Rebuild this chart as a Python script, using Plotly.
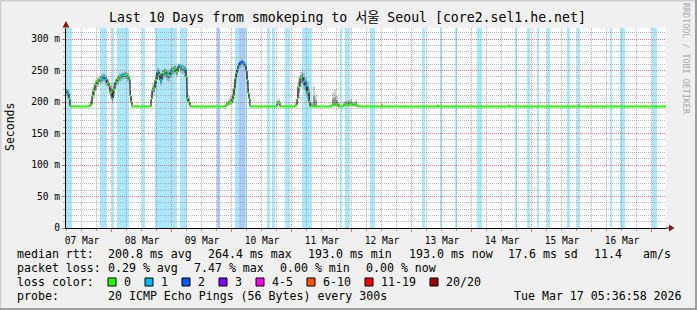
import pandas as pd
import plotly.graph_objects as go

# ---------------- data ----------------
title_text = "Last 10 Days from smokeping to 서울 Seoul [core2.sel1.he.net]"
t_start = "2026-03-07 05:36:58"
t_end = "2026-03-17 05:36:58"

med_time = [
    "2026-03-07 05:37", "2026-03-07 06:01", "2026-03-07 06:49", "2026-03-07 07:13",
    "2026-03-07 15:13", "2026-03-07 16:01", "2026-03-07 16:25", "2026-03-07 17:13",
    "2026-03-07 18:01", "2026-03-07 18:49", "2026-03-07 19:37", "2026-03-07 20:25",
    "2026-03-07 21:13", "2026-03-07 22:01", "2026-03-07 22:49", "2026-03-07 23:13",
    "2026-03-08 00:01", "2026-03-08 00:25", "2026-03-08 01:13", "2026-03-08 02:01",
    "2026-03-08 02:49", "2026-03-08 03:37", "2026-03-08 04:25", "2026-03-08 05:13",
    "2026-03-08 06:01", "2026-03-08 06:49", "2026-03-08 07:13", "2026-03-08 07:37",
    "2026-03-08 08:01", "2026-03-08 15:37", "2026-03-08 16:01", "2026-03-08 16:25",
    "2026-03-08 17:13", "2026-03-08 18:01", "2026-03-08 18:49", "2026-03-08 19:13",
    "2026-03-08 20:01", "2026-03-08 20:49", "2026-03-08 21:37", "2026-03-08 22:25",
    "2026-03-08 23:13", "2026-03-09 00:01", "2026-03-09 00:49", "2026-03-09 01:37",
    "2026-03-09 02:25", "2026-03-09 03:13", "2026-03-09 04:01", "2026-03-09 04:49",
    "2026-03-09 05:37", "2026-03-09 06:01", "2026-03-09 06:25", "2026-03-09 07:13",
    "2026-03-09 21:37", "2026-03-09 22:25", "2026-03-09 23:13", "2026-03-10 00:01",
    "2026-03-10 00:25", "2026-03-10 00:49", "2026-03-10 01:13", "2026-03-10 01:37",
    "2026-03-10 02:01", "2026-03-10 02:25", "2026-03-10 02:49", "2026-03-10 03:37",
    "2026-03-10 04:25", "2026-03-10 05:13", "2026-03-10 05:37", "2026-03-10 06:01",
    "2026-03-10 06:25", "2026-03-10 06:49", "2026-03-10 07:13", "2026-03-10 18:01",
    "2026-03-10 19:13", "2026-03-11 01:13", "2026-03-11 02:01", "2026-03-11 02:25",
    "2026-03-11 03:13", "2026-03-11 04:01", "2026-03-11 04:25", "2026-03-11 05:13",
    "2026-03-11 06:01", "2026-03-11 06:49", "2026-03-11 07:13", "2026-03-11 08:25",
    "2026-03-11 09:13", "2026-03-11 10:01", "2026-03-11 16:01", "2026-03-11 16:49",
    "2026-03-11 17:37", "2026-03-11 18:25", "2026-03-11 19:13", "2026-03-11 20:25",
    "2026-03-11 21:13", "2026-03-11 22:25", "2026-03-11 23:13", "2026-03-12 00:01",
    "2026-03-12 01:13", "2026-03-12 02:01", "2026-03-12 11:37", "2026-03-12 12:25",
    "2026-03-13 10:00", "2026-03-13 10:48", "2026-03-14 14:24", "2026-03-14 15:12",
    "2026-03-15 18:24", "2026-03-15 19:12", "2026-03-17 05:37",
]
med_ms = [
    218, 214, 205, 193,
    196, 210, 218, 228,
    232, 236, 237, 240,
    236, 230, 226, 215,
    206, 220, 232, 237,
    240, 242, 243, 243,
    240, 236, 210, 200,
    193, 205, 219, 222,
    235, 248, 244, 235,
    246, 248, 244, 243,
    248, 251, 253, 248,
    258, 256, 254, 252,
    240, 206, 200, 193,
    196, 198, 200, 204,
    210, 222, 238, 246,
    252, 258, 262, 264,
    261, 258, 250, 235,
    214, 205, 193, 198,
    193, 195, 205, 224,
    238, 240, 232, 226,
    216, 200, 193, 193,
    193, 193, 196, 195,
    196, 193, 193, 195,
    196, 195, 197, 195,
    196, 193, 193, 193,
    193, 193, 193, 193,
    193, 193, 193,
]
# loss level of each median sample (index into loss_colors)
med_loss = [
    1, 1, 0, 0,
    0, 0, 0, 0,
    0, 0, 1, 1,
    1, 0, 0, 0,
    1, 0, 0, 0,
    0, 1, 1, 0,
    0, 0, 0, 0,
    0, 0, 0, 0,
    0, 1, 0, 1,
    0, 0, 1, 0,
    1, 0, 0, 0,
    1, 1, 0, 1,
    0, 0, 0, 0,
    0, 0, 0, 0,
    0, 0, 0, 1,
    1, 1, 2, 2,
    1, 1, 1, 0,
    0, 0, 0, 0,
    0, 0, 0, 0,
    0, 1, 1, 1,
    0, 0, 0, 0,
    0, 0, 0, 0,
    0, 0, 0, 0,
    0, 0, 0, 0,
    0, 0, 0, 0,
    0, 0, 0, 0,
    0, 0, 0,
]
smoke_lo = [
    210, 205, 196, 193,
    193, 198, 205, 218,
    224, 228, 230, 232,
    226, 220, 212, 204,
    198, 205, 222, 228,
    232, 234, 236, 236,
    232, 222, 200, 195,
    193, 195, 205, 210,
    222, 238, 234, 226,
    236, 238, 234, 232,
    238, 242, 244, 240,
    248, 246, 245, 240,
    222, 198, 195, 193,
    193, 194, 195, 196,
    198, 205, 220, 232,
    240, 248, 254, 258,
    255, 248, 238, 220,
    205, 196, 193, 194,
    193, 193, 196, 205,
    222, 228, 220, 212,
    204, 195, 193, 193,
    193, 193, 193, 193,
    193, 193, 193, 193,
    193, 193, 193, 193,
    193, 193, 193, 193,
    193, 193, 193, 193,
    193, 193, 193,
]
smoke_hi = [
    222, 220, 212, 193,
    204, 222, 228, 236,
    240, 242, 244, 246,
    242, 238, 234, 228,
    222, 230, 238, 242,
    245, 247, 248, 248,
    246, 242, 226, 210,
    193, 215, 228, 232,
    244, 254, 252, 246,
    252, 254, 252, 250,
    255, 257, 259, 256,
    262, 260, 259, 258,
    250, 225, 210, 193,
    202, 206, 210, 222,
    228, 235, 246, 252,
    256, 262, 265, 267,
    265, 263, 258, 250,
    228, 212, 193, 205,
    193, 200, 228, 240,
    248, 252, 246, 240,
    232, 222, 200, 225,
    212, 193, 215, 220,
    210, 200, 193, 200,
    202, 203, 205, 200,
    204, 193, 198, 193,
    197, 193, 197, 193,
    197, 193, 193,
]

loss_start = [
    "2026-03-07 05:37", "2026-03-07 19:12", "2026-03-08 00:00", "2026-03-08 02:00",
    "2026-03-08 12:00", "2026-03-08 17:12", "2026-03-09 03:12", "2026-03-09 18:00",
    "2026-03-10 01:12", "2026-03-10 02:48", "2026-03-10 05:12", "2026-03-10 14:00",
    "2026-03-10 16:00", "2026-03-10 21:12", "2026-03-11 04:00", "2026-03-11 19:12",
    "2026-03-11 21:12", "2026-03-12 07:12", "2026-03-13 04:00", "2026-03-13 11:12",
    "2026-03-13 17:12", "2026-03-14 02:00", "2026-03-14 17:12", "2026-03-14 22:00",
    "2026-03-15 02:00", "2026-03-15 06:00", "2026-03-15 14:00", "2026-03-15 18:00",
    "2026-03-16 07:12", "2026-03-16 11:12", "2026-03-17 00:00",
]
loss_end = [
    "2026-03-07 08:00", "2026-03-07 22:00", "2026-03-08 00:48", "2026-03-08 06:48",
    "2026-03-08 13:12", "2026-03-09 02:00", "2026-03-09 06:00", "2026-03-09 19:12",
    "2026-03-10 02:48", "2026-03-10 05:12", "2026-03-10 06:00", "2026-03-10 15:12",
    "2026-03-10 17:12", "2026-03-10 23:12", "2026-03-11 08:00", "2026-03-11 20:00",
    "2026-03-11 23:12", "2026-03-12 09:12", "2026-03-13 05:12", "2026-03-13 12:00",
    "2026-03-13 18:00", "2026-03-14 04:00", "2026-03-14 18:00", "2026-03-14 23:12",
    "2026-03-15 02:48", "2026-03-15 07:12", "2026-03-15 15:12", "2026-03-15 19:12",
    "2026-03-16 08:00", "2026-03-16 13:12", "2026-03-17 02:00",
]
loss_level = [1, 1, 1, 1, 1, 1, 1, 2, 1, 2, 1, 1, 1, 1, 1, 1,
              1, 1, 1, 1, 1, 1, 1, 1, 1, 1, 1, 1, 1, 1, 1]

loss_labels = ["0", "1", "2", "3", "4-5", "6-10", "11-19", "20/20"]
loss_colors = ["#26ff00", "#00b8ff", "#0059ff", "#7e00ff", "#ff00ee", "#ff5500", "#ff0000", "#a10000"]

y_tickvals = [0, 50, 100, 150, 200, 250, 300]
y_ticktext = ["0", "50 m", "100 m", "150 m", "200 m", "250 m", "300 m"]

rtt_stats = ["200.8 ms avg", "264.4 ms max", "193.0 ms min", "193.0 ms now", "17.6 ms sd", "11.4", "am/s"]
loss_stats = ["0.29 % avg", "7.47 % max", "0.00 % min", "0.00 % now"]
probe_text = "20 ICMP Echo Pings (56 Bytes) every 300s"
stamp_text = "Tue Mar 17 05:36:58 2026"
side_text = "RRDTOOL / TOBI OETIKER"

# ---------------- layout geometry (pixels) ----------------
W, H = 697, 310
PL, PR, PT, PB = 66, 666, 28, 228
YMAX = 317.5
MONO = "DejaVu Sans Mono"


def px(xp):
    return (xp - PL) / (PR - PL)


def py(yp):
    return (PB - yp) / (PB - PT)


def hexrgba(h, a):
    h = h.lstrip("#")
    return "rgba(%d,%d,%d,%.2f)" % (int(h[0:2], 16), int(h[2:4], 16), int(h[4:6], 16), a)


fig = go.Figure()

# smoke (outer and inner)
mt = pd.to_datetime(med_time)
lo2 = [(a + m) / 2 for a, m in zip(smoke_lo, med_ms)]
hi2 = [(b + m) / 2 for b, m in zip(smoke_hi, med_ms)]
for lo, hi, fc in [(smoke_lo, smoke_hi, "rgba(0,0,0,0.18)"), (lo2, hi2, "rgba(0,0,0,0.30)")]:
    fig.add_trace(go.Scatter(x=mt, y=lo, mode="lines", line=dict(width=0, shape="hv"),
                             hoverinfo="skip", showlegend=False))
    fig.add_trace(go.Scatter(x=mt, y=hi, mode="lines", line=dict(width=0, shape="hv"),
                             fill="tonexty", fillcolor=fc, hoverinfo="skip", showlegend=False))

# dark median step line
fig.add_trace(go.Scatter(x=mt, y=med_ms, mode="lines", line=dict(color="#111111", width=1, shape="hv"),
                         hoverinfo="skip", showlegend=False))

# coloured median segments according to loss of each sample
segx = {i: [] for i in range(len(loss_colors))}
segy = {i: [] for i in range(len(loss_colors))}
for i in range(len(mt) - 1):
    lvl = med_loss[i]
    segx[lvl] += [mt[i], mt[i + 1], None]
    segy[lvl] += [med_ms[i], med_ms[i], None]
for lvl in segx:
    if segx[lvl]:
        fig.add_trace(go.Scatter(x=segx[lvl], y=segy[lvl], mode="lines",
                                 line=dict(color=loss_colors[lvl], width=2),
                                 hoverinfo="skip", showlegend=False))

shapes = []
# loss background bands
for a, b, l in zip(loss_start, loss_end, loss_level):
    shapes.append(dict(type="rect", xref="x", yref="paper", x0=a, x1=b, y0=0, y1=1,
                       fillcolor=hexrgba(loss_colors[l], 0.33), line=dict(width=0), layer="below"))

# frame
shapes += [
    dict(type="rect", xref="paper", yref="paper", x0=px(0), x1=px(W), y0=py(0), y1=py(1.5),
         fillcolor="#cfcfcf", line=dict(width=0)),
    dict(type="rect", xref="paper", yref="paper", x0=px(0), x1=px(1.5), y0=py(0), y1=py(H),
         fillcolor="#cfcfcf", line=dict(width=0)),
    dict(type="rect", xref="paper", yref="paper", x0=px(W - 2), x1=px(W), y0=py(0), y1=py(H),
         fillcolor="#9e9e9e", line=dict(width=0)),
    dict(type="rect", xref="paper", yref="paper", x0=px(0), x1=px(W), y0=py(H - 2), y1=py(H),
         fillcolor="#9e9e9e", line=dict(width=0)),
]
# axis arrows
shapes += [
    dict(type="line", xref="paper", yref="paper", x0=px(666), x1=px(669), y0=py(228), y1=py(228),
         line=dict(color="#000000", width=1)),
    dict(type="path", xref="paper", yref="paper",
         path="M %f,%f L %f,%f L %f,%f Z" % (px(674.5), py(228), px(669), py(224.5), px(669), py(231.5)),
         fillcolor="#8b1010", line=dict(width=0)),
    dict(type="path", xref="paper", yref="paper",
         path="M %f,%f L %f,%f L %f,%f Z" % (px(66), py(21), px(62.5), py(27.5), px(69.5), py(27.5)),
         fillcolor="#8b1010", line=dict(width=0)),
]

ann = []


def txt(x, y, s, size=11.6, color="#000000", anchor="left", angle=0):
    ann.append(dict(x=px(x), y=py(y), xref="paper", yref="paper", text=s, showarrow=False,
                    xanchor=anchor, yanchor="middle", textangle=angle, borderpad=0,
                    font=dict(family=MONO + ", Noto Sans CJK KR", size=size, color=color)))


txt(347, 18, title_text, size=13.2, anchor="center")
txt(10, 127, "Seconds", size=11.5, anchor="center", angle=-90)
txt(686, 59, side_text, size=8.4, color="#a8a8a8", anchor="center", angle=90)

L1, L2, L3, L4 = 254, 268, 282, 296
txt(16, L1, "median rtt:")
for xpos, s in zip([107, 207, 307, 408, 507, 593, 642], rtt_stats):
    txt(xpos, L1, s)
txt(16, L2, "packet loss:")
for xpos, s in zip([107, 193, 279, 365], loss_stats):
    txt(xpos, L2, s)
txt(16, L3, "loss color:")
box_x = [108, 145, 182, 219, 256, 307, 365, 430]
for bx, lab, col in zip(box_x, loss_labels, loss_colors):
    shapes.append(dict(type="rect", xref="paper", yref="paper", x0=px(bx), x1=px(bx + 8),
                       y0=py(L3 + 4), y1=py(L3 - 4), fillcolor=col, line=dict(color="#000000", width=1)))
    txt(bx + 15, L3, lab)
txt(16, L4, "probe:")
txt(107, L4, probe_text)
txt(513, L4, stamp_text)

fig.update_layout(
    width=W, height=H, autosize=False,
    margin=dict(l=PL, r=W - PR, t=PT, b=H - PB, pad=0),
    paper_bgcolor="#f0f0f0", plot_bgcolor="#ffffff",
    showlegend=False, shapes=shapes, annotations=ann,
    xaxis=dict(type="date", range=[t_start, t_end], dtick=86400000, tick0="2026-03-07",
               ticklabelmode="period", tickformat="%d %b",
               tickfont=dict(family=MONO, size=9.6, color="#000000"),
               showgrid=True, gridcolor="rgba(222,80,80,0.55)", griddash="1px,1px", gridwidth=1,
               ticks="outside", ticklen=3, tickcolor="rgba(222,80,80,0.8)",
               minor=dict(dtick=21600000, tick0="2026-03-07", showgrid=True,
                          gridcolor="rgba(143,143,143,0.6)", griddash="1px,1px",
                          ticks="outside", ticklen=2, tickcolor="rgba(143,143,143,0.8)"),
               showline=True, linecolor="#000000", linewidth=1, zeroline=False, fixedrange=True),
    yaxis=dict(range=[0, YMAX], tickvals=y_tickvals, ticktext=y_ticktext,
               tickfont=dict(family=MONO, size=9.6, color="#000000"),
               showgrid=True, gridcolor="rgba(222,80,80,0.55)", griddash="1px,1px", gridwidth=1,
               ticks="outside", ticklen=3, tickcolor="rgba(222,80,80,0.8)",
               minor=dict(dtick=10, showgrid=True, gridcolor="rgba(143,143,143,0.6)",
                          griddash="1px,1px", ticks="outside", ticklen=2,
                          tickcolor="rgba(143,143,143,0.8)"),
               showline=True, linecolor="#000000", linewidth=1, zeroline=False, fixedrange=True),
)

fig.write_html("out.html")
